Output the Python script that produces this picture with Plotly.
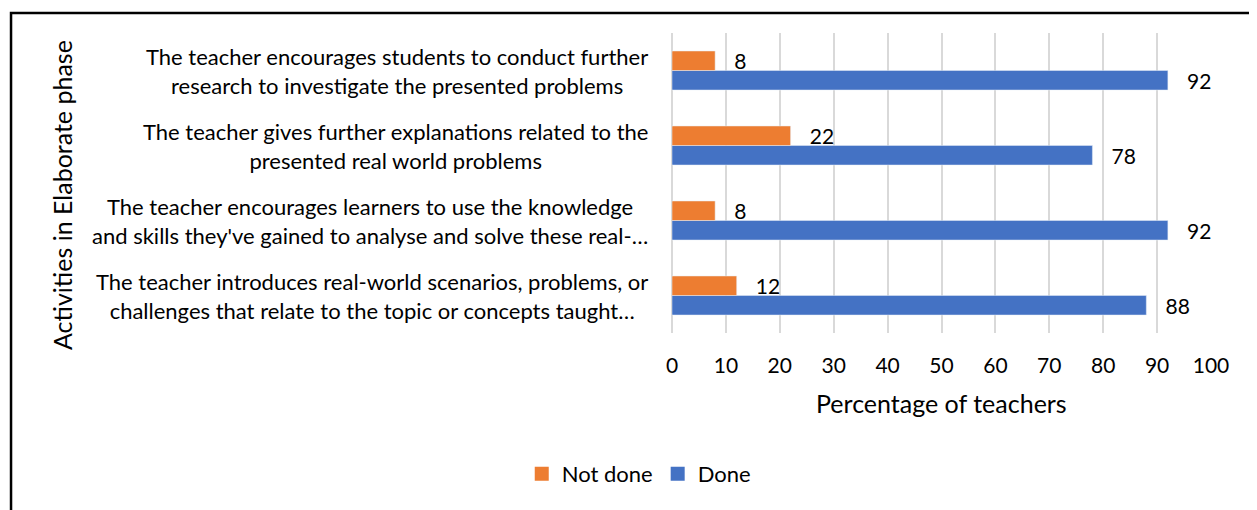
import plotly.graph_objects as go

# categories listed bottom -> top (plotly category axis order)
categories = [
    "The teacher introduces real-world scenarios, problems, or<br>challenges that relate to the topic or concepts taught…",
    "The teacher encourages learners to use the knowledge<br>and skills they've gained to analyse and solve these real-…",
    "The teacher gives further explanations related to the<br>presented real world problems",
    "The teacher encourages students to conduct further<br>research to investigate the presented problems",
]
done = [88, 92, 78, 92]
not_done = [12, 8, 22, 8]
x_ticks = list(range(0, 101, 10))

ORANGE = "#ED7D31"
BLUE = "#4472C4"
FONT = "Lato"
TXT = "#000000"

fig = go.Figure()
# Done first so that Not done sits above it inside each group
fig.add_trace(go.Bar(
    y=categories, x=done, name="Done", orientation="h",
    marker=dict(color=BLUE), showlegend=False,
    text=done, texttemplate="\u00a0\u00a0\u00a0%{x}", textposition="outside",
    constraintext="none", textfont=dict(family=FONT, size=21, color=TXT),
    cliponaxis=False,
))
fig.add_trace(go.Bar(
    y=categories, x=not_done, name="Not done", orientation="h",
    marker=dict(color=ORANGE), showlegend=False,
    text=not_done, texttemplate="\u00a0\u00a0\u00a0%{x}", textposition="outside",
    constraintext="none", textfont=dict(family=FONT, size=21, color=TXT),
    cliponaxis=False,
))
# legend entries with bigger square swatches
for name, col in [("Not done", ORANGE), ("Done", BLUE)]:
    fig.add_trace(go.Scatter(
        x=[None], y=[None], mode="markers", name=name,
        marker=dict(symbol="square", size=14, color=col),
    ))

annotations = []
for c in categories:
    annotations.append(dict(
        x=0, y=c, xref="paper", yref="y", text=c, showarrow=False,
        xanchor="right", yanchor="middle", align="center", xshift=-22,
        font=dict(family=FONT, size=22, color=TXT),
    ))
annotations.append(dict(
    x=-1.1317, y=0.46, xref="paper", yref="paper", text="Activities in Elaborate phase",
    showarrow=False, textangle=-90, xanchor="center", yanchor="middle",
    font=dict(family=FONT, size=25, color=TXT),
))
annotations.append(dict(
    x=0.5, y=-0.233, xref="paper", yref="paper", text="Percentage of teachers",
    showarrow=False, xanchor="center", yanchor="middle",
    font=dict(family=FONT, size=25, color=TXT),
))

fig.update_layout(
    width=1249, height=502,
    paper_bgcolor="white", plot_bgcolor="white",
    margin=dict(l=664, r=46, t=25, b=177),
    barmode="group", bargap=0.48, bargroupgap=0,
    font=dict(family=FONT, size=20, color=TXT),
    showlegend=True,
    legend=dict(orientation="h", x=0.505, xref="container",
                xanchor="center", y=0.072, yref="container", yanchor="middle",
                font=dict(family=FONT, size=22, color=TXT),
                itemwidth=30),
    xaxis=dict(range=[0, 100], tickvals=x_ticks, showgrid=True, gridcolor="#D9D9D9",
               gridwidth=1.5, zeroline=True, zerolinecolor="#D9D9D9", zerolinewidth=1.5,
               showline=False, ticks="", ticklabelstandoff=18,
               tickfont=dict(family=FONT, size=21, color=TXT)),
    yaxis=dict(showticklabels=False, showgrid=False, zeroline=False, showline=False,
               ticks=""),
    annotations=annotations,
    shapes=[dict(type="rect", xref="paper", yref="paper", x0=-1.2263, x1=1.1,
                 y0=-0.7, y1=1.0667, line=dict(color="black", width=2.5),
                 fillcolor="rgba(0,0,0,0)", layer="above")],
)

fig.write_html("out.html")
